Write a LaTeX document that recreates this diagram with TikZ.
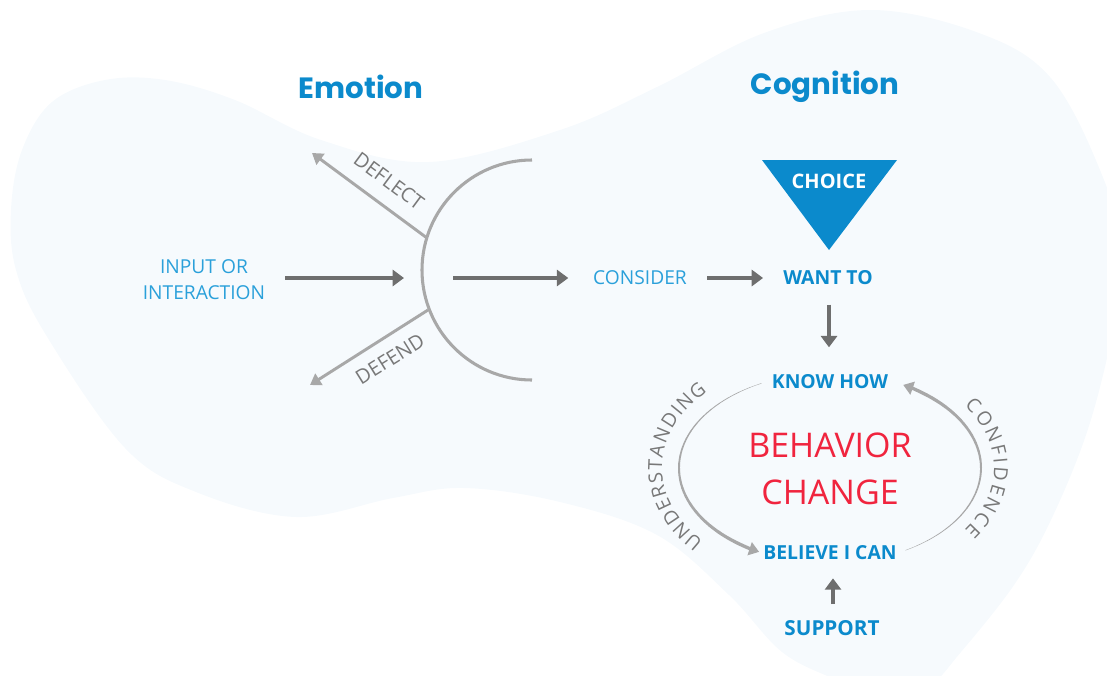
\documentclass[tikz,border=0pt]{standalone}
\usepackage{fontspec}
\setmainfont{Open Sans}
\newfontfamily\popp{Poppins}
\usetikzlibrary{arrows.meta,decorations.text}
\definecolor{blob}{RGB}{246,250,253}
\definecolor{tblue}{RGB}{11,138,204}
\definecolor{lblue}{RGB}{42,160,218}
\definecolor{bred}{RGB}{240,36,62}
\definecolor{dgray}{RGB}{110,110,110}
\definecolor{lgray}{RGB}{168,168,168}
\definecolor{tgray}{RGB}{120,120,120}
\newcommand\setfs[1]{\fontsize{#1}{#1}\selectfont}
\begin{document}
\begin{tikzpicture}[x=0.75pt,y=-0.75pt,
  title/.style={font=\popp\bfseries\setfs{22}, text=tblue, inner sep=0pt, anchor=base},
  lab/.style={font=\setfs{14.4}, text=lblue, inner sep=0pt},
  key/.style={font=\bfseries\setfs{14.5}, text=tblue, inner sep=0pt},
  side/.style={font=\setfs{15}, text=tgray, inner sep=0pt},
  big/.style={font=\setfs{25.5}, text=bred, inner sep=0pt},
  darr/.style={draw=dgray, line width=2.8pt, -{Triangle[length=8.5pt,width=12pt]}},
  larr/.style={draw=lgray, line width=2.2pt, -{Triangle[length=8pt,width=10pt]}},
]
\useasboundingbox (0,0) rectangle (1107,675);
\begin{scope}
\clip (0,0) rectangle (1107,675);
\fill[blob] plot[smooth cycle, tension=0.6] coordinates {
 (11,210) (22,150) (52,102) (105,80) (165,80) (235,100) (321,140) (429,162) (560,130)
 (657,87) (764,33) (871,10) (979,33) (1050,77) (1100,170) (1125,260) (1110,345)
 (1086,435) (1050,522) (1014,585) (961,652) (925,690) (880,700) (836,680)
 (782,652) (729,595) (657,535) (560,502) (464,488) (393,498) (296,517)
 (196,492) (125,448) (46,335) (16,270)};
\end{scope}

% titles
\node[title] (emo) at (361,98) {Emotion};
\node[title] (cog) at (825,94) {Cognition};

% emotion part
\node[lab, align=center, font=\fontsize{14.4}{19.5}\selectfont] (input) at (204,280) {INPUT OR\\INTERACTION};
\coordinate (mouth) at (404,278);
\coordinate (exit) at (453,278);
\draw[lgray, line width=2.3pt] (532,160) arc[start angle=-90, end angle=-270, radius=110];
\coordinate (dfs) at (427,238);
\coordinate (dft) at (312,153);
\coordinate (dds) at (428,310);
\coordinate (ddt) at (310,385);
\draw[larr] (dfs) -- (dft);
\draw[larr] (dds) -- (ddt);
\node[side, rotate=-36.5] (deflect) at (389,181) {DEFLECT};
\node[side, rotate=32] (defend) at (390,359) {DEFEND};
\draw[darr, shorten <=15pt] (input.east |- mouth) -- (mouth);

% cognition part
\node[lab] (consider) at (640,278) {CONSIDER};
\draw[darr, shorten >=18.5pt] (exit) -- (consider.west);
\fill[tblue] (762,160) -- (897,160) -- (829,250) -- cycle;
\node[key, text=white, font=\bfseries\setfs{15}] (choice) at (829,181) {CHOICE};
\node[key] (want) at (828,278) {WANT TO};
\draw[darr, shorten <=15pt, shorten >=15pt] (consider.east) -- (want.west);
\node[key] (know) at (830,382) {KNOW HOW};
\draw[darr, shorten <=14.5pt, shorten >=20.5pt] ([xshift=0.75pt]want.south) -- ([xshift=0.75pt]want.south |- know.north);
\node[big] (beh) at (830,445) {BEHAVIOR};
\node[big] (chg) at (830,492) {CHANGE};
\node[key] (believe) at (830,553) {BELIEVE I CAN};
\node[key, font=\bfseries\setfs{15.5}] (support) at (832,628) {SUPPORT};
\draw[darr, shorten <=12pt, shorten >=13.5pt] ([xshift=0.75pt]support.north) -- ([xshift=0.75pt]support.north |- believe.south);

% loop
\foreach \i in {0,...,22}{
  \pgfmathsetmacro\aS{-117-5*\i}
  \pgfmathsetmacro\lw{0.25+2.2*\i/22}
  \draw[lgray, line width=\lw pt, line cap=round] (830,468) ++(\aS:151 and 95) arc[start angle=\aS, delta angle=-5, x radius=151, y radius=95];
}
\draw[lgray, line width=2.5pt, -{Triangle[length=7.5pt,width=10pt]}] (830,468) ++(-232:151 and 95) arc[start angle=-232, end angle=-242, x radius=151, y radius=95];
\foreach \i in {0,...,21}{
  \pgfmathsetmacro\aS{60-5*\i}
  \pgfmathsetmacro\lw{0.25+2.2*\i/21}
  \draw[lgray, line width=\lw pt, line cap=round] (830,468) ++(\aS:151 and 95) arc[start angle=\aS, delta angle=-5, x radius=151, y radius=95];
}
\draw[lgray, line width=2.5pt, -{Triangle[length=7.5pt,width=10pt]}] (830,468) ++(-50:151 and 95) arc[start angle=-50, end angle=-61, x radius=151, y radius=95];

\path[decorate, decoration={text along path, text align=fit to path, text={|\setfs{14.5}\color{tgray}|UNDERSTANDING}}]
  (830,468) ++(139:168 and 112) arc[start angle=139, end angle=223, x radius=168, y radius=112];
\path[decorate, decoration={text along path, text align=fit to path, text={|\setfs{14.5}\color{tgray}|CONFIDENCE}}]
  (830,468) ++(-35:164 and 108) arc[start angle=-35, end angle=35, x radius=164, y radius=108];
\end{tikzpicture}
\end{document}
